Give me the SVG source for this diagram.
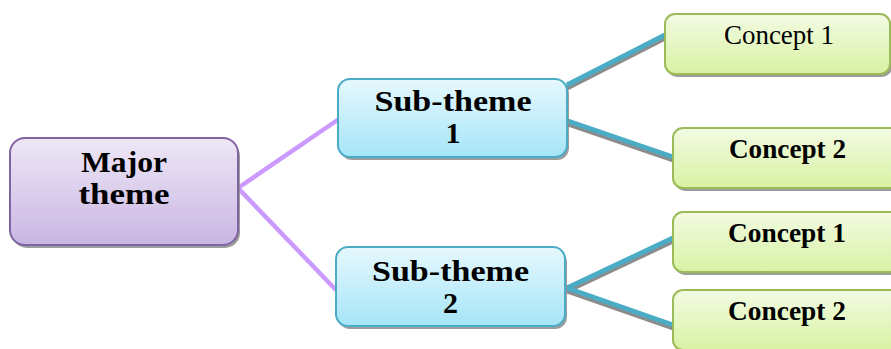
<svg xmlns="http://www.w3.org/2000/svg" width="891" height="349" viewBox="0 0 891 349">
<defs>
<linearGradient id="gMajor" x1="0" y1="0" x2="0" y2="1">
<stop offset="0" stop-color="#EEE7F6"/>
<stop offset="1" stop-color="#C9B6E3"/>
</linearGradient>
<linearGradient id="gSub" x1="0" y1="0" x2="0" y2="1">
<stop offset="0" stop-color="#E6F8FD"/>
<stop offset="1" stop-color="#A5E5F8"/>
</linearGradient>
<linearGradient id="gCon" x1="0" y1="0" x2="0" y2="1">
<stop offset="0" stop-color="#F3FBE3"/>
<stop offset="1" stop-color="#D8F2A3"/>
</linearGradient>
</defs>
<style>
.shadow{fill:#8C8C8C;opacity:0.85}
.major{fill:url(#gMajor);stroke:#8064A2;stroke-width:2}
.sub{fill:url(#gSub);stroke:#4BACC6;stroke-width:2}
.con{fill:url(#gCon);stroke:#9BBB59;stroke-width:2}
.t{font-family:"Liberation Serif","Times New Roman",serif;fill:#000;text-anchor:middle}
.b{font-weight:bold}
.purple{stroke:#CC99FF;stroke-width:4.5;fill:none}
.blue{stroke:#4BACC6;stroke-width:5;fill:none}
.bshadow{stroke:#8C8C8C;stroke-width:5;fill:none}
</style>
<g id="connectors">
<line class="purple" x1="238" y1="188" x2="339" y2="119"/>
<line class="purple" x1="238" y1="188" x2="336" y2="290"/>
<line class="bshadow" x1="567" y1="88" x2="665" y2="38"/>
<line class="blue" x1="567" y1="85" x2="665" y2="35"/>
<line class="bshadow" x1="565" y1="123" x2="673" y2="160"/>
<line class="blue" x1="565" y1="120" x2="673" y2="157"/>
<line class="bshadow" x1="567" y1="291" x2="673" y2="241"/>
<line class="blue" x1="567" y1="288" x2="673" y2="238"/>
<line class="bshadow" x1="567" y1="291" x2="673" y2="328"/>
<line class="blue" x1="567" y1="288" x2="673" y2="325"/>
</g>
<g id="major">
<rect class="shadow" x="12" y="141" width="228" height="107" rx="15"/>
<rect class="major" x="10" y="138" width="228" height="107" rx="15"/>
<text class="t b" font-size="29" x="124" y="172" textLength="86" lengthAdjust="spacingAndGlyphs">Major</text>
<text class="t b" font-size="29" x="124" y="204" textLength="91" lengthAdjust="spacingAndGlyphs">theme</text>
</g>
<g id="sub1">
<rect class="shadow" x="340" y="82" width="229" height="78" rx="12"/>
<rect class="sub" x="338" y="79" width="229" height="78" rx="12"/>
<text class="t b" font-size="29" x="453" y="111" textLength="157" lengthAdjust="spacingAndGlyphs">Sub-theme</text>
<text class="t b" font-size="30" x="453" y="143">1</text>
</g>
<g id="sub2">
<rect class="shadow" x="338" y="250" width="229" height="79" rx="12"/>
<rect class="sub" x="336" y="247" width="229" height="79" rx="12"/>
<text class="t b" font-size="29" x="450.5" y="281" textLength="157" lengthAdjust="spacingAndGlyphs">Sub-theme</text>
<text class="t b" font-size="30" x="450.5" y="313">2</text>
</g>
<g id="concept1a">
<rect class="shadow" x="667" y="17" width="225" height="60" rx="10"/>
<rect class="con" x="665" y="14" width="225" height="60" rx="10"/>
<text class="t" font-size="27" x="779" y="44" textLength="110" lengthAdjust="spacingAndGlyphs">Concept 1</text>
</g>
<g id="concept2a">
<rect class="shadow" x="675" y="131" width="228" height="60" rx="10"/>
<rect class="con" x="673" y="128" width="228" height="60" rx="10"/>
<text class="t b" font-size="27" x="787.5" y="158" textLength="117" lengthAdjust="spacingAndGlyphs">Concept 2</text>
</g>
<g id="concept1b">
<rect class="shadow" x="675" y="215" width="228" height="60" rx="10"/>
<rect class="con" x="673" y="212" width="228" height="60" rx="10"/>
<text class="t b" font-size="27" x="787" y="242" textLength="118" lengthAdjust="spacingAndGlyphs">Concept 1</text>
</g>
<g id="concept2b">
<rect class="shadow" x="675" y="293" width="228" height="60" rx="10"/>
<rect class="con" x="673" y="290" width="228" height="60" rx="10"/>
<text class="t b" font-size="27" x="787" y="320" textLength="118" lengthAdjust="spacingAndGlyphs">Concept 2</text>
</g>
</svg>
